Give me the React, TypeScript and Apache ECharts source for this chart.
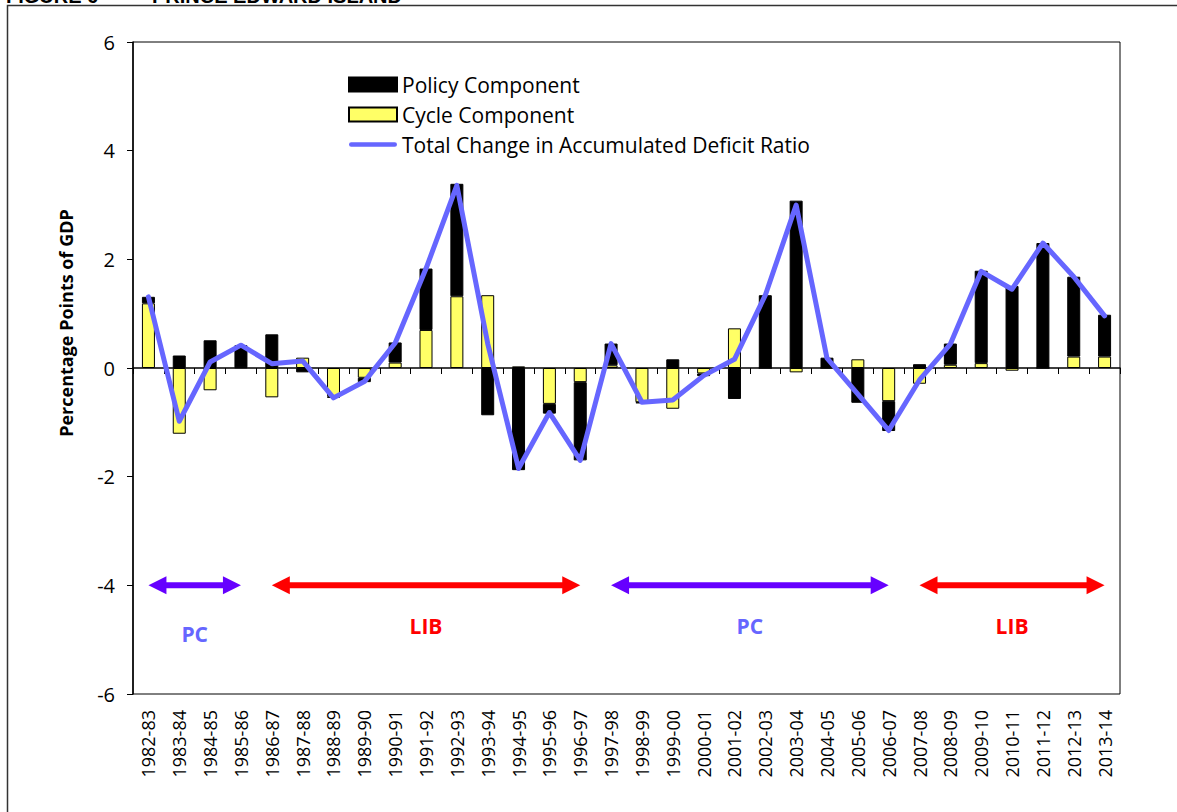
import React, { useEffect, useRef } from 'react';
import * as echarts from 'echarts';

const categories = [
  '1982-83', '1983-84', '1984-85', '1985-86', '1986-87', '1987-88', '1988-89', '1989-90',
  '1990-91', '1991-92', '1992-93', '1993-94', '1994-95', '1995-96', '1996-97', '1997-98',
  '1998-99', '1999-00', '2000-01', '2001-02', '2002-03', '2003-04', '2004-05', '2005-06',
  '2006-07', '2007-08', '2008-09', '2009-10', '2010-11', '2011-12', '2012-13', '2013-14',
];

const policyComponent = [
  0.12, 0.23, 0.51, 0.41, 0.62, -0.08, -0.03, -0.08,
  0.37, 1.13, 2.07, -0.87, -1.88, -0.18, -1.44, 0.40,
  -0.02, 0.16, -0.05, -0.57, 1.34, 3.08, 0.19, -0.64,
  -0.55, 0.07, 0.39, 1.70, 1.51, 2.30, 1.47, 0.77,
];

const cycleComponent = [
  1.19, -1.21, -0.41, 0.01, -0.54, 0.19, -0.52, -0.18,
  0.10, 0.70, 1.32, 1.34, 0.03, -0.66, -0.26, 0.05,
  -0.63, -0.75, -0.10, 0.73, 0.00, -0.08, 0.00, 0.16,
  -0.61, -0.29, 0.06, 0.09, -0.05, 0.00, 0.21, 0.21,
];

const totalChange = [
  1.31, -0.98, 0.11, 0.42, 0.08, 0.13, -0.55, -0.25,
  0.46, 1.83, 3.36, 0.45, -1.85, -0.82, -1.70, 0.45,
  -0.63, -0.59, -0.14, 0.16, 1.34, 3.00, 0.18, -0.48,
  -1.15, -0.22, 0.44, 1.78, 1.45, 2.30, 1.68, 0.96,
];

const yMin = -6;
const yMax = 6;
const yInterval = 2;

const periodParty = ['PC', 'LIB', 'PC', 'LIB'];
const periodStart = ['1982-83', '1986-87', '1997-98', '2007-08'];
const periodEnd = ['1985-86', '1996-97', '2006-07', '2013-14'];
const periodLevel = -4;

const seriesNames = ['Policy Component', 'Cycle Component', 'Total Change in Accumulated Deficit Ratio'];

const FONT = "'Open Sans', 'Noto Sans', sans-serif";
const partyArrowColor: Record<string, string> = { PC: '#6600FF', LIB: '#FF0000' };
const partyTextColor: Record<string, string> = { PC: '#6666FF', LIB: '#FF0000' };
const labelDy = [49, 41, 41, 41];

export default function App() {
  const ref = useRef<HTMLDivElement>(null);

  useEffect(() => {
    if (!ref.current) return;
    const chart = echarts.init(ref.current, null, { renderer: 'svg' });

    const option: any = {
      animation: false,
      backgroundColor: '#fff',
      grid: {
        left: 133, right: 57, top: 42, bottom: 118,
        show: true, borderColor: '#000', borderWidth: 1, backgroundColor: 'transparent',
      },
      legend: {
        orient: 'vertical', left: 343, top: 69,
        itemWidth: 48, itemHeight: 14, itemGap: 9,
        selectedMode: false,
        textStyle: { fontFamily: FONT, fontSize: 21, color: '#000' },
        data: [
          { name: seriesNames[0], icon: 'rect' },
          { name: seriesNames[1], icon: 'rect' },
          { name: seriesNames[2], icon: 'path://M2,0H46A2,2 0 0 1 46,4.5H2A2,2 0 0 1 2,0Z' },
        ],
      },
      xAxis: [
        {
          type: 'category', data: categories, position: 'bottom',
          axisLine: { show: false, onZero: false },
          axisTick: { show: false },
          axisLabel: { rotate: 90, interval: 0, color: '#000', fontFamily: FONT, fontSize: 18, margin: 16 },
          splitLine: { show: false },
        },
        {
          type: 'category', data: categories, position: 'bottom',
          axisLine: { show: true, onZero: true, lineStyle: { color: '#000', width: 1.5 } },
          axisTick: { show: true, length: 6, interval: 0, lineStyle: { color: '#000', width: 1 } },
          axisLabel: { show: false },
          splitLine: { show: false },
        },
      ],
      yAxis: {
        type: 'value', min: yMin, max: yMax, interval: yInterval,
        axisLine: { show: true, onZero: false, lineStyle: { color: '#000', width: 1.5 } },
        axisTick: { show: true, length: 6, lineStyle: { color: '#000' } },
        splitLine: { show: false },
        axisLabel: { color: '#000', fontFamily: FONT, fontSize: 20, margin: 18 },
      },
      series: [
        {
          name: seriesNames[1], type: 'bar', stack: 'components', data: cycleComponent, barWidth: 13,
          itemStyle: { color: '#FFFF66', borderColor: '#000', borderWidth: 1 },
        },
        {
          name: seriesNames[0], type: 'bar', stack: 'components', data: policyComponent, barWidth: 13,
          itemStyle: { color: '#000', borderColor: '#000', borderWidth: 1 },
        },
        {
          name: seriesNames[2], type: 'line', data: totalChange, symbol: 'none', z: 5,
          lineStyle: { color: '#6666FF', width: 5, cap: 'round', join: 'round' },
          itemStyle: { color: '#6666FF' },
        },
      ],
    };

    chart.setOption(option);

    const titleFont = "bold 20px 'Liberation Sans', Arial, sans-serif";
    const graphics: any[] = [
      {
        type: 'rect', silent: true,
        shape: { x: 7.5, y: 5.5, width: 1200, height: 900 },
        style: { fill: 'none', stroke: '#333', lineWidth: 1.5 },
      },
      {
        type: 'text', x: 6, y: 6,
        style: { text: 'FIGURE 6', font: titleFont, fill: '#000', align: 'left', verticalAlign: 'bottom' },
      },
      {
        type: 'text', x: 152, y: 6,
        style: { text: 'PRINCE EDWARD ISLAND', font: titleFont, fill: '#000', align: 'left', verticalAlign: 'bottom' },
      },
      {
        type: 'text', x: 66, y: 323, rotation: Math.PI / 2,
        style: { text: 'Percentage Points of GDP', font: `bold 18px ${FONT}`, fill: '#000', align: 'center', verticalAlign: 'middle' },
      },
    ];

    const headLen = 18;
    const headHalf = 9;
    periodParty.forEach((party, i) => {
      const p1 = chart.convertToPixel({ xAxisIndex: 0, yAxisIndex: 0 }, [categories.indexOf(periodStart[i]), periodLevel]) as number[];
      const p2 = chart.convertToPixel({ xAxisIndex: 0, yAxisIndex: 0 }, [categories.indexOf(periodEnd[i]), periodLevel]) as number[];
      const x1 = p1[0];
      const x2 = p2[0];
      const y = p1[1];
      const color = partyArrowColor[party];
      graphics.push({
        type: 'line', silent: true,
        shape: { x1: x1 + headLen - 2, y1: y, x2: x2 - headLen + 2, y2: y },
        style: { stroke: color, lineWidth: 6 },
      });
      graphics.push({
        type: 'polygon', silent: true,
        shape: { points: [[x1, y], [x1 + headLen, y - headHalf], [x1 + headLen, y + headHalf]] },
        style: { fill: color },
      });
      graphics.push({
        type: 'polygon', silent: true,
        shape: { points: [[x2, y], [x2 - headLen, y - headHalf], [x2 - headLen, y + headHalf]] },
        style: { fill: color },
      });
      graphics.push({
        type: 'text', x: (x1 + x2) / 2, y: y + labelDy[i],
        style: { text: party, font: `bold 21px ${FONT}`, fill: partyTextColor[party], align: 'center', verticalAlign: 'middle' },
      });
    });

    chart.setOption({ graphic: graphics });

    return () => {
      chart.dispose();
    };
  }, []);

  return (
    <div
      ref={ref}
      style={{ position: 'absolute', left: 0, top: 0, width: 1177, height: 812, background: '#fff' }}
    />
  );
}
